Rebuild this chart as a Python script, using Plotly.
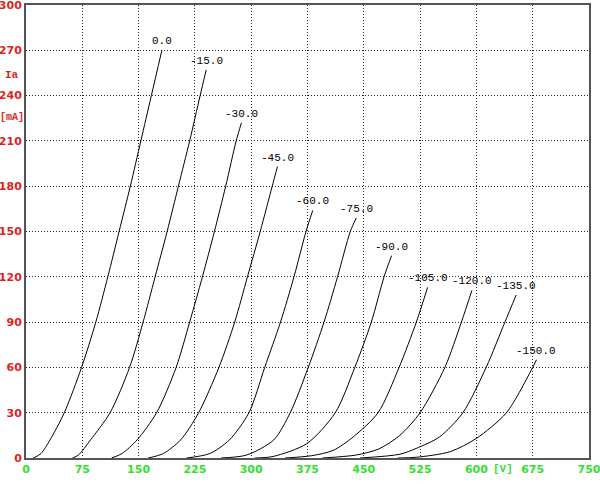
import plotly.graph_objects as go

# Grid bias labels (V)
grid_labels = ["0.0", "-15.0", "-30.0", "-45.0", "-60.0", "-75.0",
               "-90.0", "-105.0", "-120.0", "-135.0", "-150.0"]

# Plate voltage (V) / plate current (mA)
va_0 = [10, 20, 32, 51, 74, 93, 109, 124, 139, 153, 167, 181]
ia_0 = [0, 3, 12, 30, 60, 90, 120, 150, 180, 210, 240, 270]

va_15 = [62, 70, 86, 112, 138, 156, 172, 188, 203, 218, 232, 240]
ia_15 = [0, 2, 12, 30, 60, 90, 120, 150, 180, 210, 240, 257]

va_30 = [114, 128, 148, 174, 200, 218, 235, 251, 266, 280, 287]
ia_30 = [0, 3, 12, 30, 60, 90, 120, 150, 180, 210, 222]

va_45 = [163, 183, 206, 230, 257, 278, 295, 312, 328, 335]
ia_45 = [0, 3, 12, 30, 60, 90, 120, 150, 180, 193]

va_60 = [214, 245, 271, 297, 318, 339, 357, 373, 382]
ia_60 = [0, 3, 12, 30, 60, 90, 120, 150, 164]

va_75 = [260, 294, 330, 352, 376, 397, 415, 432, 440]
ia_75 = [0, 2, 12, 30, 60, 90, 120, 150, 159]

va_90 = [305, 329, 374, 412, 438, 460, 477, 487]
ia_90 = [0, 1, 9.5, 30, 60, 90, 120, 134]

va_105 = [345, 380, 409, 436, 469, 497, 520, 535]
ia_105 = [0, 1.5, 5, 14, 30, 60, 90, 113]

va_120 = [395, 440, 470, 498, 525, 558, 580, 594]
ia_120 = [0, 2, 6, 15, 30, 60, 90, 111]

va_135 = [445, 498, 520, 551, 582, 613, 638, 653]
ia_135 = [0, 2.5, 6.4, 14, 30, 60, 90, 108]

va_150 = [495, 520, 565, 600, 640, 675, 680]
ia_150 = [0, 0.5, 4.2, 13, 30, 60, 65]

x_ticks = [0, 75, 150, 225, 300, 375, 450, 525, 600, 675, 750]
y_ticks = [0, 30, 60, 90, 120, 150, 180, 210, 240, 270, 300]

curves = list(zip(grid_labels,
                  [va_0, va_15, va_30, va_45, va_60, va_75, va_90, va_105, va_120, va_135, va_150],
                  [ia_0, ia_15, ia_30, ia_45, ia_60, ia_75, ia_90, ia_105, ia_120, ia_135, ia_150]))

RED = "#e01e1e"
GREEN = "#33e033"
MONO = "Liberation Mono, DejaVu Sans Mono, monospace"

fig = go.Figure()
annotations = []
for label, va, ia in curves:
    fig.add_trace(go.Scatter(x=va, y=ia, mode="lines",
                             line=dict(color="black", width=1, shape="spline", smoothing=0.8),
                             showlegend=False, hoverinfo="skip"))
    annotations.append(dict(x=va[-1], y=ia[-1], xref="x", yref="y", text=label,
                            showarrow=False, xanchor="center", yanchor="bottom", yshift=1,
                            font=dict(family=MONO, size=11, color="black")))

annotations += [
    dict(x=-0.024, y=253.7, xref="paper", yref="y", text="<b>Ia</b>", showarrow=False,
         xanchor="center", yanchor="middle",
         font=dict(family=MONO, size=11, color=RED)),
    dict(x=-0.025, y=225.6, xref="paper", yref="y", text="<b>[mA]</b>", showarrow=False,
         xanchor="center", yanchor="middle",
         font=dict(family=MONO, size=10, color=RED)),
    dict(x=636, y=0, xref="x", yref="paper", text="<b>[V]</b>", showarrow=False,
         xanchor="center", yanchor="middle", yshift=-11,
         font=dict(family=MONO, size=11, color=GREEN)),
]

axis_common = dict(showgrid=True, gridcolor="#222222", gridwidth=1, griddash="1px,2px",
                   zeroline=False, showline=True, mirror=True, linecolor="#555555",
                   linewidth=2, ticks="", fixedrange=True, automargin=False,
                   ticklabeloverflow="allow")

fig.update_layout(
    width=600, height=485,
    margin=dict(l=26, r=11, t=5, b=27, autoexpand=False),
    paper_bgcolor="white", plot_bgcolor="white",
    xaxis=dict(range=[0, 750], tickvals=x_ticks, ticktext=[f"<b>{v}</b>" for v in x_ticks],
               tickfont=dict(family="DejaVu Sans", size=11, color=GREEN), **axis_common),
    yaxis=dict(range=[0, 300], tickvals=y_ticks, ticktext=[f"<b>{v}</b>" for v in y_ticks],
               tickfont=dict(family="DejaVu Sans", size=11, color=RED), **axis_common),
    annotations=annotations,
)

fig.write_html("out.html",
               config={"displayModeBar": False},
               post_script="document.body.style.margin='0';document.body.style.overflow='hidden';")
